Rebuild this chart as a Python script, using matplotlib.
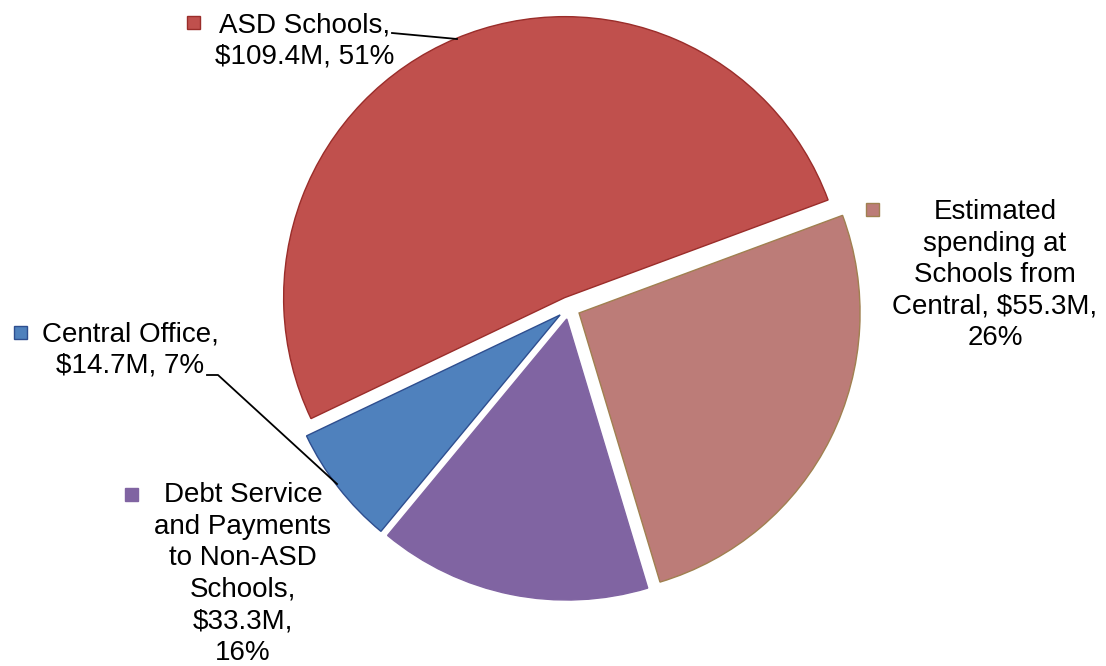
import matplotlib
matplotlib.use("Agg")
import matplotlib.pyplot as plt
from matplotlib.patches import Rectangle

categories = ["ASD Schools", "Estimated spending at Schools from Central",
              "Debt Service and Payments to Non-ASD Schools", "Central Office"]
values = [109.4, 55.3, 33.3, 14.7]
label_texts = ["ASD Schools,\n$109.4M, 51%",
               "Estimated\nspending at\nSchools from\nCentral, $55.3M,\n26%",
               "Debt Service\nand Payments\nto Non-ASD\nSchools,\n$33.3M,\n16%",
               "Central Office,\n$14.7M, 7%"]
colors = ["#C0504D", "#BC7C78", "#8064A2", "#4F81BD"]
edges = ["#9A2D2A", "#A08050", "#8064A2", "#2E4E8F"]

W, H = 1106, 666
fig = plt.figure(figsize=(W / 100, H / 100), dpi=100)
ax = fig.add_axes([0, 0, 1, 1])

def py(y):
    return H - y

R = 281
wedges, _ = ax.pie(values, colors=colors, startangle=205.5, counterclock=False,
                   center=(569, py(308)), radius=R, explode=[0.04 * R] * 4,
                   wedgeprops=dict(linewidth=1.0), frame=True)
for w, ec in zip(wedges, edges):
    w.set_edgecolor(ec)
ax.set_xlim(0, W)
ax.set_ylim(0, H)
ax.set_aspect("equal")
ax.axis("off")

font = dict(family=["Liberation Sans", "DejaVu Sans"], fontsize=20, color="black")

# label positions (pixel coordinates): text center, square box
label_pos = [(305, 41), (995, 275), (243, 574), (130, 350)]
square_pos = [(187, 16), (866, 203), (125, 488), (14, 326)]
for (tx, ty), (sx, sy), txt, c, ec in zip(label_pos, square_pos, label_texts, colors, edges):
    ax.text(tx, py(ty), txt, ha="center", va="center", multialignment="center",
            linespacing=1.27, **font)
    ax.add_patch(Rectangle((sx, py(sy + 13)), 13, 13, facecolor=c, edgecolor=ec, lw=1))

# leader lines
ax.plot([392, 457], [py(33), py(39)], color="black", lw=1.3)
ax.plot([207, 218, 337], [py(375), py(375), py(484)], color="black", lw=1.3)

fig.savefig("out.png", dpi=100)
